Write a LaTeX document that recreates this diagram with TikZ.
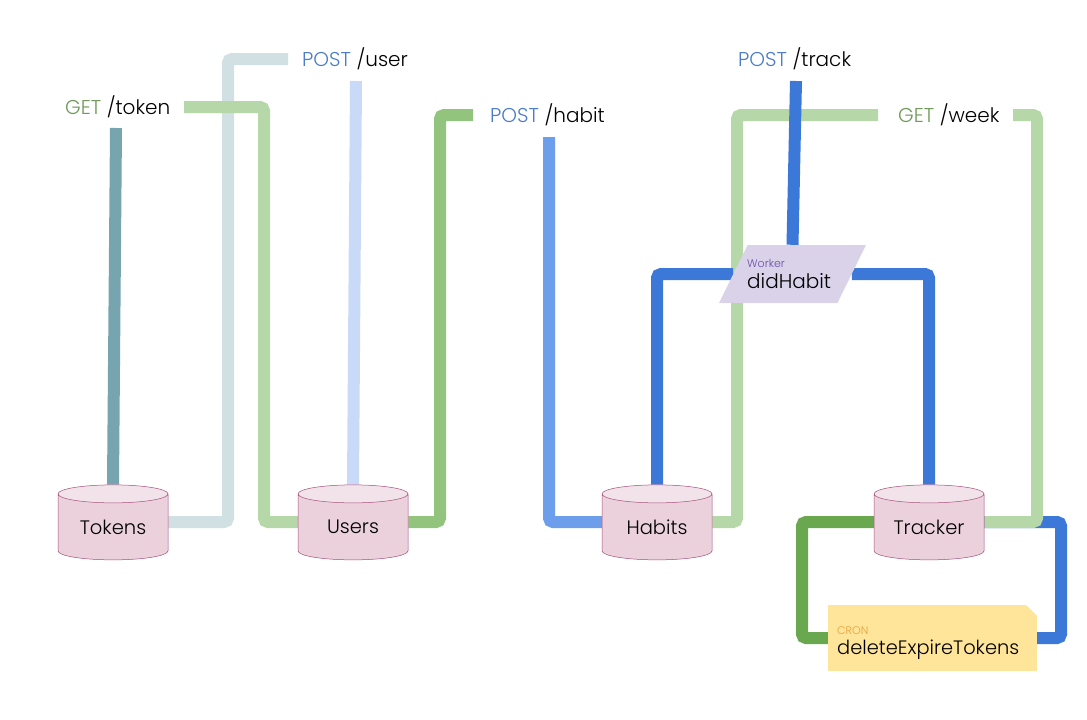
\documentclass[tikz,border=0pt]{standalone}
\usepackage{fontspec}
\setmainfont{Poppins Light}
\usetikzlibrary{shapes.geometric,backgrounds}
\definecolor{dbbody}{HTML}{EAD1DC}
\definecolor{dbtop}{HTML}{F2E2E9}
\definecolor{dbedge}{HTML}{A64D79}
\definecolor{getcol}{HTML}{6F9A5A}
\definecolor{postcol}{HTML}{4A7CC8}
\definecolor{cfteal}{HTML}{76A5AF}
\definecolor{cfpale}{HTML}{D0E0E3}
\definecolor{cfgreen}{HTML}{B6D7A8}
\definecolor{cfmoss}{HTML}{93C47D}
\definecolor{cfdark}{HTML}{6AA84F}
\definecolor{cfsky}{HTML}{C9DAF8}
\definecolor{cfmid}{HTML}{6D9EEB}
\definecolor{cfblue}{HTML}{3C78D8}
\definecolor{workerfill}{HTML}{D9D2E9}
\definecolor{cronfill}{HTML}{FFE599}
\definecolor{workertext}{HTML}{674EA7}
\definecolor{crontext}{HTML}{E6A23C}
\tikzset{
  db/.style={cylinder,shape border rotate=90,shape aspect=0.225,draw=dbedge,line width=0.5pt,
    cylinder uses custom fill,cylinder body fill=dbbody,cylinder end fill=dbtop,text width=80pt,align=center,
    minimum width=110pt,minimum height=75pt,inner sep=0pt,font=\fontsize{19.5}{24}\selectfont},
  lbl/.style={anchor=base west,inner sep=0pt,font=\fontsize{20}{24}\selectfont},
  small/.style={anchor=base west,inner sep=0pt,font=\fontsize{11}{12}\selectfont},
  conn/.style={line width=12pt,rounded corners=4pt}
}
\newcommand{\getword}{\textcolor{getcol}{GET}}
\newcommand{\postword}{\textcolor{postcol}{POST}}
\begin{document}
\begin{tikzpicture}[x=1pt,y=-1pt]
\useasboundingbox (0,0) rectangle (1087,720);

\node[db] (tokens) at (113,527) {Tokens};
\node[db] (users) at (353,527) {Users};
\node[db] (habits) at (657,527) {Habits};
\node[db] (tracker) at (929,527) {Tracker};

\node[trapezium,trapezium left angle=75,trapezium right angle=105,fill=workerfill,trapezium stretches=true,
  inner sep=0pt,minimum height=58pt,minimum width=147pt] (worker) at (792.5,274) {\phantom{x}};
\node[small,text=workertext] (workertag) at (747,267) {Worker};
\node[lbl] (workername) at (747,288) {didHabit};

\node[rectangle,fill=cronfill,inner sep=0pt,minimum width=209pt,minimum height=66pt] (cron) at (932.5,638) {};
\fill[white] ([xshift=-11pt]cron.north east) -- ([xshift=0.5pt,yshift=0.5pt]cron.north east) -- ([yshift=-11pt]cron.north east) -- cycle;
\node[small,text=crontext] (crontag) at (837,634) {CRON};
\node[lbl,font=\fontsize{19.4}{24}\selectfont] (cronname) at (837,654) {deleteExpireTokens};

\node[lbl] (gettoken) at (65,114) {\getword\ /token};
\node[lbl] (postuser) at (302,66) {\postword\ /user};
\node[lbl] (posthabit) at (490,122) {\postword\ /habit};
\node[lbl] (posttrack) at (738,66) {\postword\ /track};
\node[lbl] (getweek) at (898,122) {\getword\ /week};

\coordinate (tokentop) at (116,128);
\coordinate (usertop) at (356,81);
\coordinate (habittop) at (549,137);
\coordinate (tracktop) at (796,81);
\coordinate (paleend) at (288,59);
\coordinate (tokenend) at (184,107);
\coordinate (mossend) at (473,115);
\coordinate (habitend) at (878,115);
\coordinate (weekend) at (1013,115);

\begin{pgfonlayer}{background}
\draw[conn,cfteal] (tokens.north) -- (tokentop);
\draw[conn,cfpale] ([yshift=5pt]tokens.east) -| (228,59) -- (paleend);
\draw[conn,cfgreen] (tokenend) -| (264,522) -- ([yshift=5pt]users.west);
\draw[conn,cfsky] (users.north) -- (usertop);
\draw[conn,cfmoss] ([yshift=5pt]users.east) -| (440,115) -- (mossend);
\draw[conn,cfmid] ([yshift=5pt]habits.west) -| (habittop);
\draw[conn,cfgreen] ([yshift=5pt]habits.east) -| (737,115) -- (habitend);
\draw[conn,cfblue] ([yshift=5pt]tracker.east) -| (1061,638) -- (cron.east);
\draw[conn,cfgreen] (weekend) -| (1037,522) -- ([yshift=5pt]tracker.east);
\draw[conn,cfdark] ([yshift=5pt]tracker.west) -| (802,638) -- (cron.west);
\draw[conn,cfblue] (worker.west) -| (habits.north);
\draw[conn,cfblue] (worker.east) -| (tracker.north);
\draw[conn,cfblue] (worker.north) -- (tracktop);
\end{pgfonlayer}
\end{tikzpicture}
\end{document}
